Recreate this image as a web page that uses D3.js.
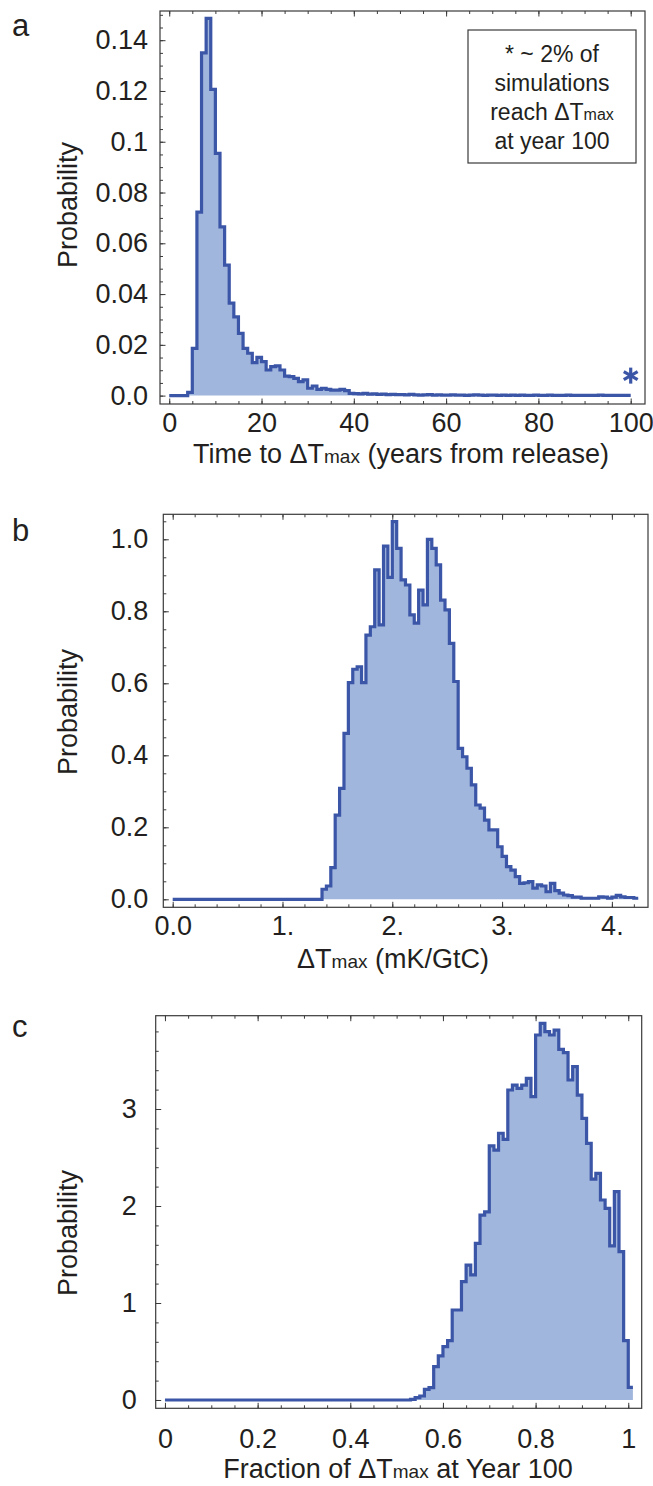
<!DOCTYPE html>
<html>
<head>
<meta charset="utf-8">
<script src="https://cdn.jsdelivr.net/npm/d3@7"></script>
<style>
  body { margin: 0; background: #fff; }
  svg { display: block; font-family: "Liberation Sans", Arial, Helvetica, sans-serif; }
  .frame { fill: none; stroke: #3a3a3a; stroke-width: 1.2; }
  .tick line { stroke: #3a3a3a; stroke-width: 1; }
  .tick text { fill: #231f20; font-size: 27px; }
</style>
</head>
<body>
<svg id="chart" width="653" height="1486"></svg>
<script>
// ---- panel a : time to dTmax, 1-year bins starting at 0
const aBinStart = 0;
const aBinWidth = 1;
const aValues = [
  0, 0, 0, 0, 0.0013, 0.0186, 0.0723, 0.135, 0.1486, 0.1206,
  0.0954, 0.0665, 0.0514, 0.0364, 0.031, 0.0245, 0.0186, 0.0167, 0.013, 0.0151,
  0.0134, 0.0101, 0.0114, 0.0117, 0.0101, 0.0077, 0.0075, 0.0068, 0.0055, 0.0062,
  0.0029, 0.0038, 0.0025, 0.0029, 0.0025, 0.0022, 0.0022, 0.0025, 0.002, 0.0009,
  0.0008, 0.0007, 0.0009, 0.0006, 0.0007, 0.0005, 0.0006, 0.0004, 0.0005, 0.0004,
  0.0004, 0.0003, 0.0005, 0.0003, 0.0002, 0.0003, 0.0004, 0.0002, 0.0003, 0.0002,
  0.0002, 0.0003, 0.0002, 0.0002, 0.0001, 0.0002, 0.0003, 0.0002, 0.0001, 0.0002,
  0.0002, 0.0001, 0.0002, 0.0001, 0.0002, 0.0001, 0.0002, 0.0001, 0.0001, 0.0002,
  0.0001, 0.0001, 0.0002, 0.0001, 0.0001, 0.0001, 0.0002, 0.0001, 0.0001, 0.0001,
  0.0001, 0.0001, 0.0001, 0.0002, 0.0001, 0.0001, 0.0001, 0.0001, 0.0001, 0.0001
];
const aXTicks = [0, 20, 40, 60, 80, 100];
const aXLabels = ["0", "20", "40", "60", "80", "100"];
const aYTicks = [0, 0.02, 0.04, 0.06, 0.08, 0.1, 0.12, 0.14];
const aYLabels = ["0.0", "0.02", "0.04", "0.06", "0.08", "0.1", "0.12", "0.14"];
const aNote = ["* ~ 2% of", "simulations", "reach \u0394T|max", "at year 100"];
const aStarAt = 100;

// ---- panel b : dTmax, 0.04 mK/GtC bins
const bBinStart = 0;
const bBinWidth = 0.04;
const bValues = [
  0, 0, 0, 0, 0, 0, 0, 0, 0, 0,
  0, 0, 0, 0, 0, 0, 0, 0, 0, 0,
  0, 0, 0, 0, 0, 0, 0, 0, 0, 0,
  0, 0, 0, 0,
  0.028, 0.037, 0.088, 0.234, 0.308, 0.461, 0.602, 0.639, 0.646, 0.602,
  0.734, 0.757, 0.915, 0.762, 0.981, 0.894, 1.049, 0.975,
  0.887, 0.873, 0.79, 0.767, 0.859, 0.818, 1.0, 0.975, 0.929, 0.831,
  0.804, 0.711, 0.605, 0.419, 0.396, 0.364, 0.318, 0.262, 0.253, 0.22,
  0.193, 0.193, 0.146, 0.119, 0.091, 0.081, 0.063, 0.044, 0.046, 0.049,
  0.031, 0.04, 0.037, 0.021, 0.044, 0.024, 0.017, 0.012, 0.01, 0.006,
  0.006, 0.003, 0.003, 0.003, 0.003, 0.007, 0.006, 0.003, 0.006, 0.011,
  0.007, 0.005, 0.005, 0.003
];
const bXTicks = [0, 1, 2, 3, 4];
const bXLabels = ["0.0", "1.", "2.", "3.", "4."];
const bYTicks = [0, 0.2, 0.4, 0.6, 0.8, 1.0];
const bYLabels = ["0.0", "0.2", "0.4", "0.6", "0.8", "1.0"];

// ---- panel c : fraction of dTmax at year 100, 0.01 bins
const cBinStart = 0;
const cBinWidth = 0.01;
const cValues = [
  0, 0, 0, 0, 0, 0, 0, 0, 0, 0,
  0, 0, 0, 0, 0, 0, 0, 0, 0, 0,
  0, 0, 0, 0, 0, 0, 0, 0, 0, 0,
  0, 0, 0, 0, 0, 0, 0, 0, 0, 0,
  0, 0, 0, 0, 0, 0, 0, 0, 0, 0,
  0, 0, 0,
  0.007, 0.024, 0.041, 0.11, 0.127, 0.344, 0.454,
  0.55, 0.612, 0.928, 0.928, 1.22, 1.39, 1.29, 1.615, 1.907, 1.94,
  2.62, 2.577, 2.75, 2.687, 3.196, 3.247, 3.213, 3.247, 3.316, 3.127,
  3.763, 3.883, 3.797, 3.763, 3.814, 3.615, 3.581, 3.299, 3.436, 3.144,
  2.904, 2.646, 2.278, 2.337, 2.062, 1.976, 1.588, 2.148, 1.529, 0.612,
  0.13
];
const cXTicks = [0, 0.2, 0.4, 0.6, 0.8, 1];
const cXLabels = ["0", "0.2", "0.4", "0.6", "0.8", "1"];
const cYTicks = [0, 1, 2, 3];
const cYLabels = ["0", "1", "2", "3"];

const STROKE = "#3b55a7";
const FILL = "#a1b6dc";
const INK = "#231f20";
const TITLE_SIZE = 27;

const svg = d3.select("#chart");

function histPoints(start, width, values) {
  let pts = values.map((v, i) => [start + i * width, v]);
  pts.push([start + values.length * width, values[values.length - 1]]);
  return pts;
}

// text with an optional small "max" part, written as "main|small|rest"
function richText(sel, str, bigSize, smallSize) {
  let parts = str.split("|");
  parts.forEach((p, i) => {
    sel.append("tspan")
      .attr("font-size", i === 1 ? smallSize : bigSize)
      .text(p);
  });
}

function drawPanel(cfg) {
  let g = svg.append("g");
  let f = cfg.frame;

  let x = d3.scaleLinear().domain(cfg.xDomain).range([f.left, f.right]);
  let y = d3.scaleLinear().domain(cfg.yDomain).range([f.bottom, f.top]);

  let pts = histPoints(cfg.binStart, cfg.binWidth, cfg.values);

  let area = d3.area()
    .curve(d3.curveStepAfter)
    .x(d => x(d[0])).y0(y(0)).y1(d => y(d[1]));
  let line = d3.line()
    .curve(d3.curveStepAfter)
    .x(d => x(d[0])).y(d => y(d[1]));

  g.append("path").attr("d", area(pts)).attr("fill", FILL);
  g.append("path").attr("d", line(pts))
    .attr("fill", "none").attr("stroke", STROKE)
    .attr("stroke-width", 3.2).attr("stroke-linejoin", "miter");

  // ticks: inward on bottom, top and left
  let xMinor = d3.range(cfg.xDomain[0], cfg.xDomain[1], cfg.xMinorStep)
    .map(v => Math.round(v / cfg.xMinorStep) * cfg.xMinorStep)
    .filter(v => v >= cfg.xTicks[0] - 1e-9 && x(v) < f.right - 2);
  let yMinor = d3.range(0, cfg.yDomain[1], cfg.yMinorStep)
    .map(v => Math.round(v / cfg.yMinorStep) * cfg.yMinorStep)
    .filter(v => y(v) > f.top + 2);

  let addAxis = (axis, tr) => {
    let a = g.append("g").attr("transform", tr).call(axis);
    a.select(".domain").remove();
    a.selectAll("text").attr("font-family", null).attr("font-size", null);
    return a;
  };

  addAxis(d3.axisBottom(x).tickValues(xMinor).tickFormat("").tickSizeInner(-3).tickSizeOuter(0),
    `translate(0,${f.bottom})`);
  addAxis(d3.axisTop(x).tickValues(xMinor).tickFormat("").tickSizeInner(-3).tickSizeOuter(0),
    `translate(0,${f.top})`);
  addAxis(d3.axisBottom(x).tickValues(cfg.xTicks).tickFormat((d, i) => cfg.xLabels[i])
    .tickSizeInner(-5.5).tickSizeOuter(0).tickPadding(cfg.xPad),
    `translate(0,${f.bottom})`);
  addAxis(d3.axisTop(x).tickValues(cfg.xTicks).tickFormat("").tickSizeInner(-5.5).tickSizeOuter(0),
    `translate(0,${f.top})`);

  addAxis(d3.axisLeft(y).tickValues(yMinor).tickFormat("").tickSizeInner(-3).tickSizeOuter(0),
    `translate(${f.left},0)`);
  addAxis(d3.axisLeft(y).tickValues(cfg.yTicks).tickFormat((d, i) => cfg.yLabels[i])
    .tickSizeInner(-5.5).tickSizeOuter(0).tickPadding(cfg.yPad),
    `translate(${f.left},0)`);

  g.append("rect").attr("class", "frame")
    .attr("x", f.left).attr("y", f.top)
    .attr("width", f.right - f.left).attr("height", f.bottom - f.top);

  // axis titles
  let xt = g.append("text")
    .attr("x", cfg.xTitlePos[0]).attr("y", cfg.xTitlePos[1])
    .attr("text-anchor", "middle").attr("fill", INK);
  richText(xt, cfg.xTitle, TITLE_SIZE, 19);

  g.append("text")
    .attr("transform", `translate(${cfg.yTitlePos[0]},${cfg.yTitlePos[1]}) rotate(-90)`)
    .attr("text-anchor", "middle").attr("fill", INK)
    .attr("font-size", TITLE_SIZE).text("Probability");

  g.append("text")
    .attr("x", cfg.letterPos[0]).attr("y", cfg.letterPos[1])
    .attr("fill", INK).attr("font-size", 31).text(cfg.letter);

  return { g: g, x: x, y: y };
}

let pa = drawPanel({
  letter: "a", letterPos: [12, 36],
  frame: { left: 160, right: 645, top: 11, bottom: 404 },
  xDomain: [-2.0, 103.1], yDomain: [-0.0033, 0.1515],
  binStart: aBinStart, binWidth: aBinWidth, values: aValues,
  xTicks: aXTicks, xLabels: aXLabels, xMinorStep: 5, xPad: 9,
  yTicks: aYTicks, yLabels: aYLabels, yMinorStep: 0.005, yPad: 12,
  xTitle: "Time to \u0394T|max| (years from release)", xTitlePos: [401, 463],
  yTitlePos: [77, 205]
});

// note box and the asterisk at year 100
let note = pa.g.append("g");
note.append("rect")
  .attr("x", 468).attr("y", 30).attr("width", 168).attr("height", 133)
  .attr("fill", "#fff").attr("stroke", "#3a3a3a").attr("stroke-width", 1.2);
aNote.forEach((line, i) => {
  let t = note.append("text")
    .attr("x", 552).attr("y", 62 + i * 29)
    .attr("text-anchor", "middle").attr("fill", INK);
  richText(t, line, 23, 16);
});

let sx = pa.x(aStarAt), sy = pa.y(0) - 20;
let star = pa.g.append("g").attr("transform", `translate(${sx},${sy})`);
[90, 30, -30].forEach(deg => {
  let r = 8, a = deg * Math.PI / 180;
  star.append("line")
    .attr("x1", -r * Math.cos(a)).attr("y1", -r * Math.sin(a))
    .attr("x2", r * Math.cos(a)).attr("y2", r * Math.sin(a))
    .attr("stroke", STROKE).attr("stroke-width", 3.2);
});

drawPanel({
  letter: "b", letterPos: [12, 541],
  frame: { left: 163.3, right: 648, top: 514.3, bottom: 907.3 },
  xDomain: [-0.0856, 4.329], yDomain: [-0.0222, 1.0694],
  binStart: bBinStart, binWidth: bBinWidth, values: bValues,
  xTicks: bXTicks, xLabels: bXLabels, xMinorStep: 0.2, xPad: 9,
  yTicks: bYTicks, yLabels: bYLabels, yMinorStep: 0.05, yPad: 15,
  xTitle: "\u0394T|max| (mK/GtC)", xTitlePos: [393, 968],
  yTitlePos: [77, 712]
});

drawPanel({
  letter: "c", letterPos: [12, 1037],
  frame: { left: 155.7, right: 641.7, top: 1015.7, bottom: 1408.3 },
  xDomain: [-0.02, 1.029], yDomain: [-0.0856, 3.962],
  binStart: cBinStart, binWidth: cBinWidth, values: cValues,
  xTicks: cXTicks, xLabels: cXLabels, xMinorStep: 0.05, xPad: 21,
  yTicks: cYTicks, yLabels: cYLabels, yMinorStep: 0.2, yPad: 19,
  xTitle: "Fraction of \u0394T|max| at Year 100", xTitlePos: [398, 1478],
  yTitlePos: [77, 1233]
});
</script>
</body>
</html>
